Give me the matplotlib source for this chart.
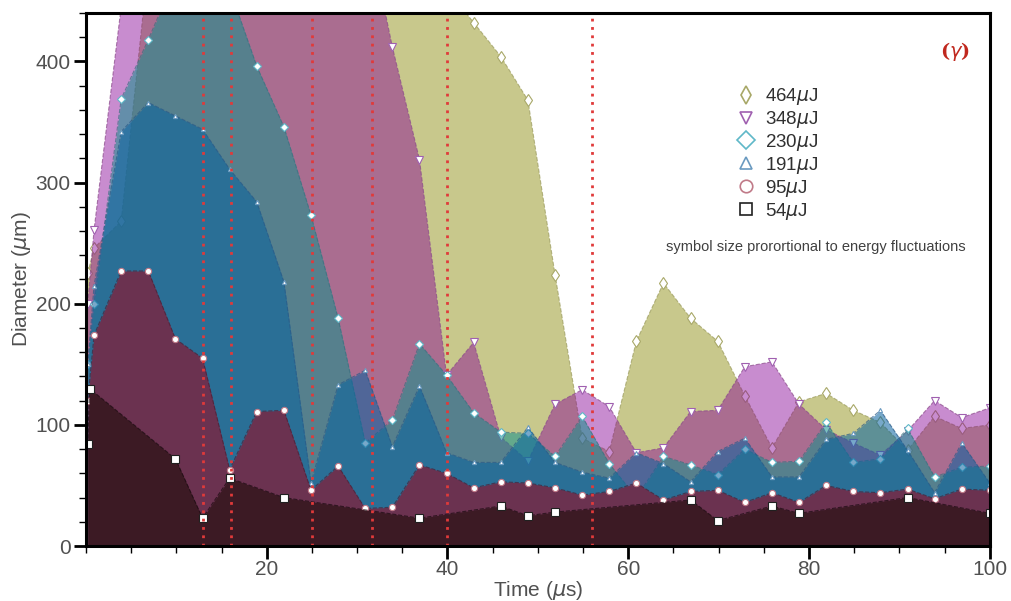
import matplotlib
matplotlib.use('Agg')
import matplotlib.pyplot as plt
from matplotlib.lines import Line2D

plt.rcParams['font.family'] = ['Liberation Sans', 'DejaVu Sans']

# common time grid (us)
time_us = [0.2, 0.9, 3.9, 6.9, 9.9, 12.9, 15.9, 18.9, 21.9, 24.9, 27.9, 30.9,
           33.9, 36.9, 39.9, 42.9, 45.9, 48.9, 51.9, 54.9, 57.9, 60.9, 63.9,
           66.9, 69.9, 72.9, 75.9, 78.9, 81.9, 84.9, 87.9, 90.9, 93.9, 96.9, 100]

d464 = [225, 246, 268, 480, 520, 540, 550, 550, 550, 540, 530, 520,
        500, 480, 460, 432, 404, 368, 224, 89, 78, 169, 217,
        188, 169, 124, 81, 119, 126, 112, 102, 79, 107, 97, 100]
d348 = [200, 261, 445, 520, 550, 560, 560, 560, 560, 560, 550, 520,
        412, 319, 141, 168, 90, 70, 117, 129, 115, 77, 81,
        111, 112, 148, 152, 117, 96, 85, 75, 95, 120, 106, 114]
d230 = [150, 200, 369, 418, 470, 480, 460, 396, 346, 273, 188, 85,
        104, 167, 141, 110, 94, 93, 74, 107, 68, 40, 74,
        67, 59, 80, 69, 70, 102, 69, 72, 97, 57, 65, 66]
d191 = [150, 215, 342, 366, 355, 344, 311, 284, 218, 52, 133, 145,
        82, 132, 77, 69, 69, 98, 69, 61, 56, 77, 68,
        53, 78, 89, 57, 57, 88, 93, 112, 79, 44, 85, 52]
d95 = [120, 174, 227, 227, 171, 155, 63, 111, 112, 46, 66, 31,
       32, 67, 60, 48, 53, 52, 48, 42, 45, 52, 38,
       45, 46, 36, 44, 36, 50, 45, 44, 47, 39, 47, 46]

# 54uJ series has its own (sparser) sampling
t54 = [0.2, 0.4, 9.9, 12.9, 15.9, 21.9, 36.9, 45.9, 48.9, 51.9, 66.9, 69.9,
       75.9, 78.9, 90.9, 100]
d54 = [84, 130, 72, 23, 56, 40, 23, 33, 25, 28, 38, 21, 33, 27, 40, 27]

red_lines_us = [13, 16, 25, 31.7, 40, 56]

labels = ['464$\\mu$J', '348$\\mu$J', '230$\\mu$J', '191$\\mu$J', '95$\\mu$J', '54$\\mu$J']

series = [
    (time_us, d464, '#c8c88c', 1.0, '#9a9a5c', 'd', 6, '#a8a868'),
    (time_us, d348, '#870096', 0.45, '#8a4a8a', 'v', 6, '#a060b0'),
    (time_us, d230, '#12918c', 0.55, '#3a7080', 'D', 4.5, '#5fb8c8'),
    (time_us, d191, '#07629f', 0.55, '#2a5a88', '^', 3, '#6a9ac0'),
    (time_us, d95, '#6b3250', 1.0, '#4a2036', 'o', 4.5, '#c07a88'),
    (t54, d54, '#3c1a24', 1.0, '#1a0a10', 's', 6, '#202020'),
]

fig = plt.figure(figsize=(10.11, 6.01), dpi=100)
ax = fig.add_axes([0.085, 0.0915, 0.894, 0.887])

for i, (t, y, col, a, ecol, mk, ms, mcol) in enumerate(series):
    ax.fill_between(t, 0, y, color=col, alpha=a, lw=0, zorder=2 + i)
    ax.plot(t, y, color=ecol, lw=0.8, ls='--', alpha=0.7, zorder=2 + i)
    ax.plot(t, y, ls='none', marker=mk, ms=ms, mfc='white', mec=mcol,
            mew=0.8, zorder=2 + i)

for xv in red_lines_us:
    ax.axvline(xv, color='#e03a3a', lw=2, ls=(0, (1, 2)), zorder=20)

ax.set_xlim(0, 100)
ax.set_ylim(0, 440)
ax.set_xticks([20, 40, 60, 80, 100])
ax.set_xticks(range(0, 101, 5), minor=True)
ax.set_yticks([0, 100, 200, 300, 400])
ax.set_yticks(range(0, 441, 20), minor=True)
ax.tick_params(which='major', length=9, width=2, labelsize=15, labelcolor='#505050')
ax.tick_params(axis='x', which='major', pad=1)
ax.tick_params(axis='y', which='major', pad=2)
ax.tick_params(which='minor', length=5, width=1)
for s in ax.spines.values():
    s.set_linewidth(2.2)
    s.set_zorder(30)

ax.set_xlabel('Time ($\\mu$s)', fontsize=15, color='#505050', labelpad=0)
ax.set_ylabel('Diameter ($\\mu$m)', fontsize=15, color='#505050', labelpad=2)

handles = [Line2D([], [], ls='none', marker=s[5], ms=9, mfc='white', mec=s[7], mew=1.2)
           for s in series]
leg = ax.legend(handles, labels, loc='upper left', bbox_to_anchor=(0.71, 0.88),
                frameon=False, fontsize=13.5, handlelength=1, handletextpad=0.5,
                labelspacing=0.1, borderpad=0)
for txt in leg.get_texts():
    txt.set_color('#303030')
leg.set_zorder(40)

ax.text(0.808, 0.56, 'symbol size prorortional to energy fluctuations',
        transform=ax.transAxes, ha='center', va='center', fontsize=10.5,
        color='#404040', zorder=40)
ax.text(0.961, 0.927, '($\\gamma$)', transform=ax.transAxes, ha='center',
        va='center', fontsize=14, color='#c0281e', fontweight='bold',
        family='DejaVu Serif', zorder=40)

fig.savefig('out.png', dpi=100)
